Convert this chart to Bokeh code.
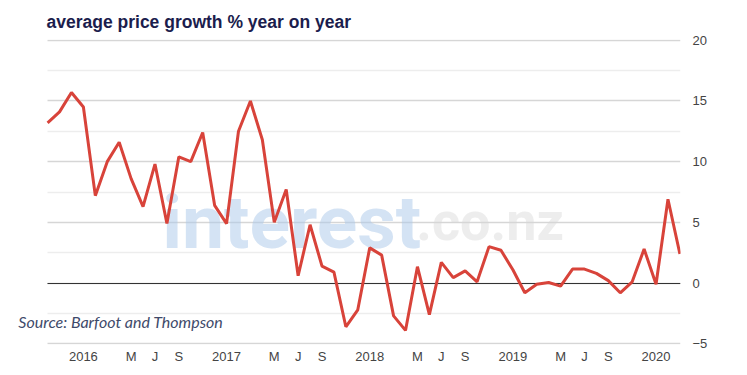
from bokeh.plotting import figure
from bokeh.models import Range1d, FixedTicker, Label, Grid
from bokeh.embed import file_html
from bokeh.resources import INLINE

# Monthly data, Oct 2015 .. Mar 2020
months = [
    "2015-10", "2015-11", "2015-12",
    "2016-01", "2016-02", "2016-03", "2016-04", "2016-05", "2016-06",
    "2016-07", "2016-08", "2016-09", "2016-10", "2016-11", "2016-12",
    "2017-01", "2017-02", "2017-03", "2017-04", "2017-05", "2017-06",
    "2017-07", "2017-08", "2017-09", "2017-10", "2017-11", "2017-12",
    "2018-01", "2018-02", "2018-03", "2018-04", "2018-05", "2018-06",
    "2018-07", "2018-08", "2018-09", "2018-10", "2018-11", "2018-12",
    "2019-01", "2019-02", "2019-03", "2019-04", "2019-05", "2019-06",
    "2019-07", "2019-08", "2019-09", "2019-10", "2019-11", "2019-12",
    "2020-01", "2020-02", "2020-03",
]
growth = [
    13.2, 14.1, 15.7,
    14.5, 7.2, 10.0, 11.6, 8.6, 6.3,
    9.8, 4.9, 10.4, 10.0, 12.4, 6.4,
    4.9, 12.5, 15.0, 11.8, 5.0, 7.7,
    0.6, 4.8, 1.4, 0.9, -3.6, -2.2,
    2.9, 2.3, -2.7, -3.9, 1.35, -2.6,
    1.7, 0.45, 1.0, 0.1, 3.0, 2.7,
    1.1, -0.8, -0.1, 0.05, -0.25, 1.15,
    1.15, 0.8, 0.2, -0.8, 0.1, 2.8,
    -0.1, 6.9, 2.4,
]
x_tick_months = ["2016-01", "2016-05", "2016-07", "2016-09",
                 "2017-01", "2017-05", "2017-07", "2017-09",
                 "2018-01", "2018-05", "2018-07", "2018-09",
                 "2019-01", "2019-05", "2019-07", "2019-09",
                 "2020-01"]
x_tick_labels = ["2016", "M", "J", "S", "2017", "M", "J", "S",
                 "2018", "M", "J", "S", "2019", "M", "J", "S", "2020"]
y_ticks = [-5, 0, 5, 10, 15, 20]
y_minor = [-2.5, 2.5, 7.5, 12.5, 17.5]

title = "average price growth % year on year"
source_note = "Source: Barfoot and Thompson"


def month_index(m):
    y, mo = m.split("-")
    return (int(y) - 2016) * 12 + (int(mo) - 1)


xs = [month_index(m) for m in months]
tick_x = [month_index(m) for m in x_tick_months]

X_START, X_END = -3.05, 50.05   # plotted data span
FRAME_START = -6.11              # extra room on the left for the source note

p = figure(width=739, height=367, output_backend="svg", toolbar_location=None,
           x_range=Range1d(FRAME_START, X_END), y_range=Range1d(-5.06, 20.06),
           y_axis_location="right",
           min_border_left=10, min_border_right=59, min_border_top=39,
           min_border_bottom=23)
p.outline_line_color = None
p.background_fill_color = "white"
p.border_fill_color = "white"

p.title.text = title
p.title.text_font = "Liberation Sans"
p.title.text_font_size = "17.5px"
p.title.text_font_style = "bold"
p.title.text_color = "#1b1d4d"
p.title.offset = 36
p.title.standoff = 15

# axes
p.xaxis.ticker = FixedTicker(ticks=tick_x)
p.xaxis.major_label_overrides = {t: l for t, l in zip(tick_x, x_tick_labels)}
p.yaxis.ticker = FixedTicker(ticks=y_ticks, minor_ticks=y_minor)
for ax in (p.xaxis[0], p.yaxis[0]):
    ax.axis_line_color = None
    ax.major_tick_line_color = None
    ax.minor_tick_line_color = None
    ax.major_tick_out = 0
    ax.major_tick_in = 0
    ax.minor_tick_out = 0
    ax.major_label_text_font = "Liberation Sans"
    ax.major_label_text_font_size = "13px"
    ax.major_label_text_color = "#444444"
p.xaxis.major_label_standoff = 4
p.yaxis.major_label_standoff = 12

p.xgrid.grid_line_color = None
yg = p.ygrid[0]
yg.grid_line_color = "#d6d6d6"
yg.grid_line_width = 1.5
yg.minor_grid_line_color = "#ededed"
yg.minor_grid_line_width = 1.5

zero = Grid(dimension=1, ticker=FixedTicker(ticks=[0]),
            grid_line_color="#333333", grid_line_width=1)
p.add_layout(zero)
try:
    yg.cross_bounds = (X_START, X_END)
    zero.cross_bounds = (X_START, X_END)
except Exception:
    pass

# watermark
wm1 = Label(x=6.6, y=5.0, text="interest", text_font="Roboto",
            text_font_style="bold", text_font_size="75px",
            text_color="#a9c8ea", text_alpha=0.5, text_baseline="alphabetic",
            level="underlay")
wm2 = Label(x=27.9, y=5.1, text=".co.nz", text_font="Roboto",
            text_font_style="bold", text_font_size="54px",
            text_color="#d6d6d6", text_alpha=0.45, text_baseline="alphabetic",
            level="underlay")
p.add_layout(wm1)
p.add_layout(wm2)

p.line(xs, growth, line_color="#d8433a", line_width=3)

src = Label(x=-5.45, y=-3.2, text=source_note, text_font="Lato",
            text_font_style="italic", text_font_size="16px",
            text_color="#3e4a6a", text_baseline="middle")
p.add_layout(src)

open("out.html", "w").write(file_html(p, INLINE))
